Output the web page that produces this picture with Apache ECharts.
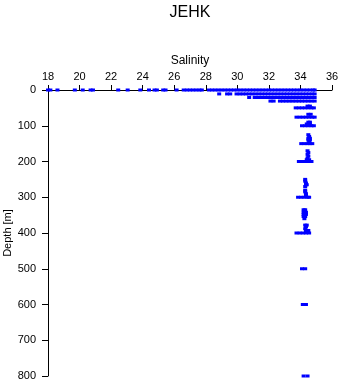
<!DOCTYPE html>
<html>
<head>
<meta charset="utf-8">
<script src="https://cdn.jsdelivr.net/npm/echarts@6/dist/echarts.min.js"></script>
<style>
html,body{margin:0;padding:0;background:#fff;}
#c{width:341px;height:384px;}
</style>
</head>
<body>
<div id="c"></div>
<script>
const title = "JEHK";
const xName = "Salinity";
const yName = "Depth [m]";
const xTicks = [18, 20, 22, 24, 26, 28, 30, 32, 34, 36];
const yTicks = [0, 100, 200, 300, 400, 500, 600, 700, 800];

// depth levels (m) and salinity observations at each level
const depthLevels = [0, 11, 21, 31, 45, 50, 68, 76, 90, 95, 100, 125, 130, 135, 140, 145, 150, 170, 175, 180, 185, 190, 195, 200, 250, 255, 260, 265, 270, 280, 285, 290, 295, 300, 335, 342, 348, 354, 360, 378, 383, 388, 393, 400, 500, 600, 800];
const salinityByLevel = [
  [18.0, 18.15, 18.6, 19.7, 20.2, 20.7, 20.85, 22.45, 23.05, 23.85, 24.4, 24.75, 24.9, 25.3, 25.45, 26.15, 26.6, 26.8, 27.0, 27.2, 27.4, 27.6, 27.75, 28.2, 28.4, 28.6, 28.8, 29.0, 29.2, 29.4, 29.6, 29.8, 30.0, 30.2, 30.4, 30.6, 30.8, 31.0, 31.2, 31.4, 31.6, 31.8, 32.0, 32.2, 32.4, 32.6, 32.8, 33.0, 33.2, 33.4, 33.6, 33.8, 34.0, 34.2, 34.4, 34.6, 34.8, 34.9],
  [28.85, 29.35, 29.55, 29.95, 30.15, 30.35, 30.55, 30.75, 30.95, 31.15, 31.35, 31.55, 31.75, 31.95, 32.15, 32.35, 32.55, 32.75, 32.95, 33.15, 33.35, 33.55, 33.75, 33.95, 34.15, 34.35, 34.55, 34.75, 34.9],
  [30.75, 31.1, 31.3, 31.5, 31.7, 31.9, 32.1, 32.3, 32.5, 32.7, 32.9, 33.1, 33.3, 33.5, 33.7, 33.9, 34.1, 34.3, 34.5, 34.7, 34.9],
  [32.1, 32.3, 32.7, 32.9, 33.1, 33.3, 33.5, 33.7, 33.9, 34.1, 34.3, 34.5, 34.7, 34.9],
  [34.45, 34.6],
  [33.7, 33.9, 34.1, 34.3, 34.5, 34.7, 34.85],
  [34.5, 34.65],
  [33.75, 33.95, 34.15, 34.35, 34.55, 34.75, 34.9],
  [34.5, 34.6],
  [34.4, 34.6],
  [34.1, 34.3, 34.5, 34.7, 34.85],
  [34.5],
  [34.55],
  [34.5, 34.6],
  [34.5, 34.6],
  [34.55],
  [34.05, 34.25, 34.45, 34.6, 34.75],
  [34.45],
  [34.5],
  [34.45],
  [34.5],
  [34.45],
  [34.4, 34.55],
  [33.9, 34.1, 34.3, 34.5, 34.7],
  [34.3],
  [34.3],
  [34.35],
  [34.35, 34.4],
  [34.3],
  [34.3],
  [34.3],
  [34.35],
  [34.35],
  [33.85, 34.05, 34.25, 34.45, 34.55],
  [34.2, 34.3],
  [34.2, 34.35],
  [34.2, 34.35],
  [34.2, 34.3],
  [34.25],
  [34.3, 34.4],
  [34.35],
  [34.3],
  [34.35, 34.5],
  [33.75, 33.95, 34.15, 34.35, 34.55],
  [34.1, 34.3],
  [34.15, 34.35],
  [34.2, 34.45]
];

const points = [];
depthLevels.forEach((d, i) => {
  salinityByLevel[i].forEach(s => points.push([s, d]));
});

const font = '"Liberation Sans", Arial, sans-serif';
const chart = echarts.init(document.getElementById('c'), null, {renderer: 'canvas'});
chart.setOption({
  animation: false,
  backgroundColor: '#fff',
  title: {
    text: title, left: 185, top: 0, textAlign: 'center',
    textStyle: {fontFamily: font, fontSize: 16, fontWeight: 'normal', color: '#000'}
  },
  grid: {left: 48, right: 9, top: 90, bottom: 8, containLabel: false, outerBoundsMode: 'none'},
  xAxis: {
    type: 'value', position: 'top', min: xTicks[0], max: xTicks[xTicks.length - 1], interval: 2,
    name: xName, nameLocation: 'middle', nameGap: 23, nameMoveOverlap: false,
    nameTextStyle: {fontFamily: font, fontSize: 12, color: '#000'},
    axisLine: {show: true, onZero: false, lineStyle: {color: '#000', width: 1}},
    axisTick: {show: true, inside: false, length: 5, lineStyle: {color: '#000'}},
    axisLabel: {fontFamily: font, fontSize: 11, color: '#000', margin: 8},
    splitLine: {show: false}
  },
  yAxis: {
    type: 'value', inverse: true, min: yTicks[0], max: yTicks[yTicks.length - 1], interval: 100,
    name: yName, nameLocation: 'middle', nameGap: 35, nameRotate: 90, nameMoveOverlap: false,
    nameTextStyle: {fontFamily: font, fontSize: 11, color: '#000'},
    axisLine: {show: true, onZero: false, lineStyle: {color: '#000', width: 1}},
    axisTick: {show: true, inside: false, length: 6, lineStyle: {color: '#000'}},
    axisLabel: {fontFamily: font, fontSize: 11, color: '#000', margin: 12},
    splitLine: {show: false}
  },
  series: [{
    type: 'scatter',
    data: points,
    symbol: 'rect',
    symbolSize: [4, 3],
    itemStyle: {color: '#0000ff', opacity: 1},
    clip: false
  }]
});
</script>
</body>
</html>
